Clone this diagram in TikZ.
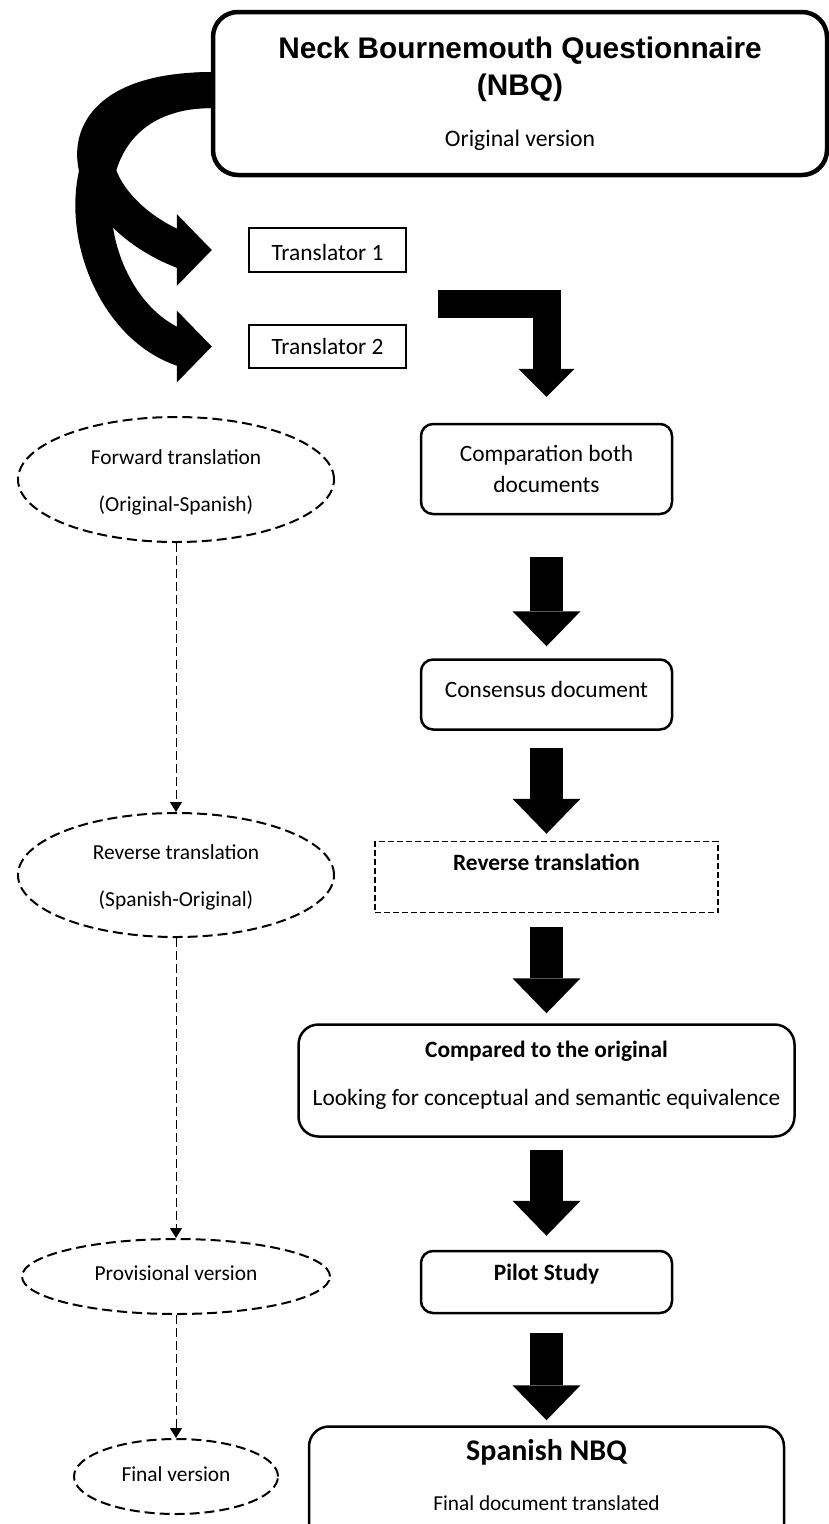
\documentclass[tikz,border=0pt]{standalone}
\usepackage{fontspec}
\setmainfont{Carlito}
\newfontfamily\headfont{Liberation Sans}
\usetikzlibrary{arrows.meta,calc,positioning,shapes.geometric}
\tikzset{
	flow chart/.style={
		x=1pt, y=-1pt,
		font=\fontsize{23.4}{31}\selectfont,
		every node/.style={inner sep=0pt, align=center}
		},
	title box/.style={draw, line width=4.5pt, rounded corners=25pt,
		minimum width=614pt, minimum height=163pt,
		font=\fontsize{29.8}{37}\selectfont},
	stepbox/.style={draw, line width=2.5pt, rounded corners=12pt, minimum width=251pt},
	wide box/.style={stepbox, rounded corners=20pt},
	dashbox/.style={draw, line width=1.5pt, dash pattern=on 6pt off 3pt,
		minimum width=343pt, minimum height=71pt},
	transbox/.style={draw, line width=2.5pt, minimum width=157pt, minimum height=44pt},
	phase/.style={ellipse, draw, line width=2pt, dash pattern=on 10pt off 5pt,
		font=\fontsize{21.4}{47}\selectfont},
	bigdown/.style={line width=33pt, -{Triangle[length=35pt,width=68pt,line width=0pt]}},
	elbow/.style={line width=28pt, -{Triangle[length=28pt,width=56pt,line width=0pt]}},
	swoop/.style={line width=36pt},
	link/.style={line width=1pt, dash pattern=on 9pt off 4pt, -{Triangle[length=10pt,width=12pt]}}
}

\begin{document}
\begin{tikzpicture}[flow chart]
	\useasboundingbox (0,0) rectangle (829,1524);
	% source and translators
	\node[title box] (nbq) at (520,93.5)
		{{\headfont\bfseries Neck Bournemouth Questionnaire}\\{\headfont\bfseries (NBQ)}\\[14pt]{\fontsize{23.7}{28}\selectfont Original version}};
	\node[transbox, text height=22pt] (t1) at (327.5,250) {Translator 1};
	\node[transbox, minimum height=43pt] (t2) at (327.5,346.5) {Translator 2};
	\coordinate (src) at (213,90);
	\coordinate (tip1) at ([xshift=-36pt]t1.west);
	\coordinate (tip2) at ([xshift=-36pt]t2.west);
	\draw[swoop] (src) .. controls (40,90) and (80,215) .. ($(tip1)+(-23,3)$);
	\draw[swoop] (src) .. controls (40,90) and (75,320) .. ($(tip2)+(-23,4)$);
	\foreach \t in {tip1,tip2}
		\fill (\t) -- ++(-35,-36) -- ++(0,72) -- cycle;
	% main steps
	\node[stepbox, minimum height=90pt] (cmp) at (546.5,469) {Comparation both\\documents};
	\node[stepbox, minimum height=70pt, text depth=10pt, below=143pt of cmp] (cons) {Consensus document};
	\node[dashbox, text depth=30pt, below=110pt of cons] (rtr) {\bfseries Reverse translation};
	\node[wide box, minimum width=496pt, minimum height=112pt, text depth=15pt, font=\fontsize{23.4}{48}\selectfont,
		below=110pt of rtr] (cmpo) {{\bfseries Compared to the original}\\Looking for conceptual and semantic equivalence};
	\node[stepbox, minimum height=62pt, text depth=19pt, below=112pt of cmpo] (pilot) {\bfseries Pilot Study};
	\node[wide box, minimum width=475pt, minimum height=120pt, text depth=24pt, font=\fontsize{23.4}{50}\selectfont,
		below=111pt of pilot] (snbq) {{\bfseries\fontsize{30}{36}\selectfont Spanish NBQ}\\{\fontsize{21.3}{26}\selectfont Final document translated}};
	\coordinate (split) at (438,304);
	\draw[elbow] (split) -| ([yshift=26pt]cmp.north);
	\foreach \a/\b/\s/\e in {cmp/cons/42/12, cons/rtr/17/7, rtr/cmpo/14/10, cmpo/pilot/12/14, pilot/snbq/19/5}
		\draw[bigdown, shorten <=\s pt, shorten >=\e pt] (\a.south) -- (\a.south |- \b.north);
	% phases
	\node[phase, minimum width=316pt, minimum height=125pt, text height=67pt] (fwd) at (176,479.5) {Forward translation\\(Original-Spanish)};
	\node[phase, minimum width=316pt, minimum height=124pt, text height=67pt] (rev) at (176,875) {Reverse translation\\(Spanish-Original)};
	\node[phase, minimum width=308pt, minimum height=75pt, text depth=6pt] (prov) at (176,1276.5) {Provisional version};
	\node[phase, minimum width=204pt, minimum height=75pt, text depth=4pt] (fin) at (176,1476.5) {Final version};
	\draw[link] (fwd) -- (rev);
	\draw[link] (rev) -- (prov);
	\draw[link] (prov) -- (fin);
\end{tikzpicture}
\end{document}
